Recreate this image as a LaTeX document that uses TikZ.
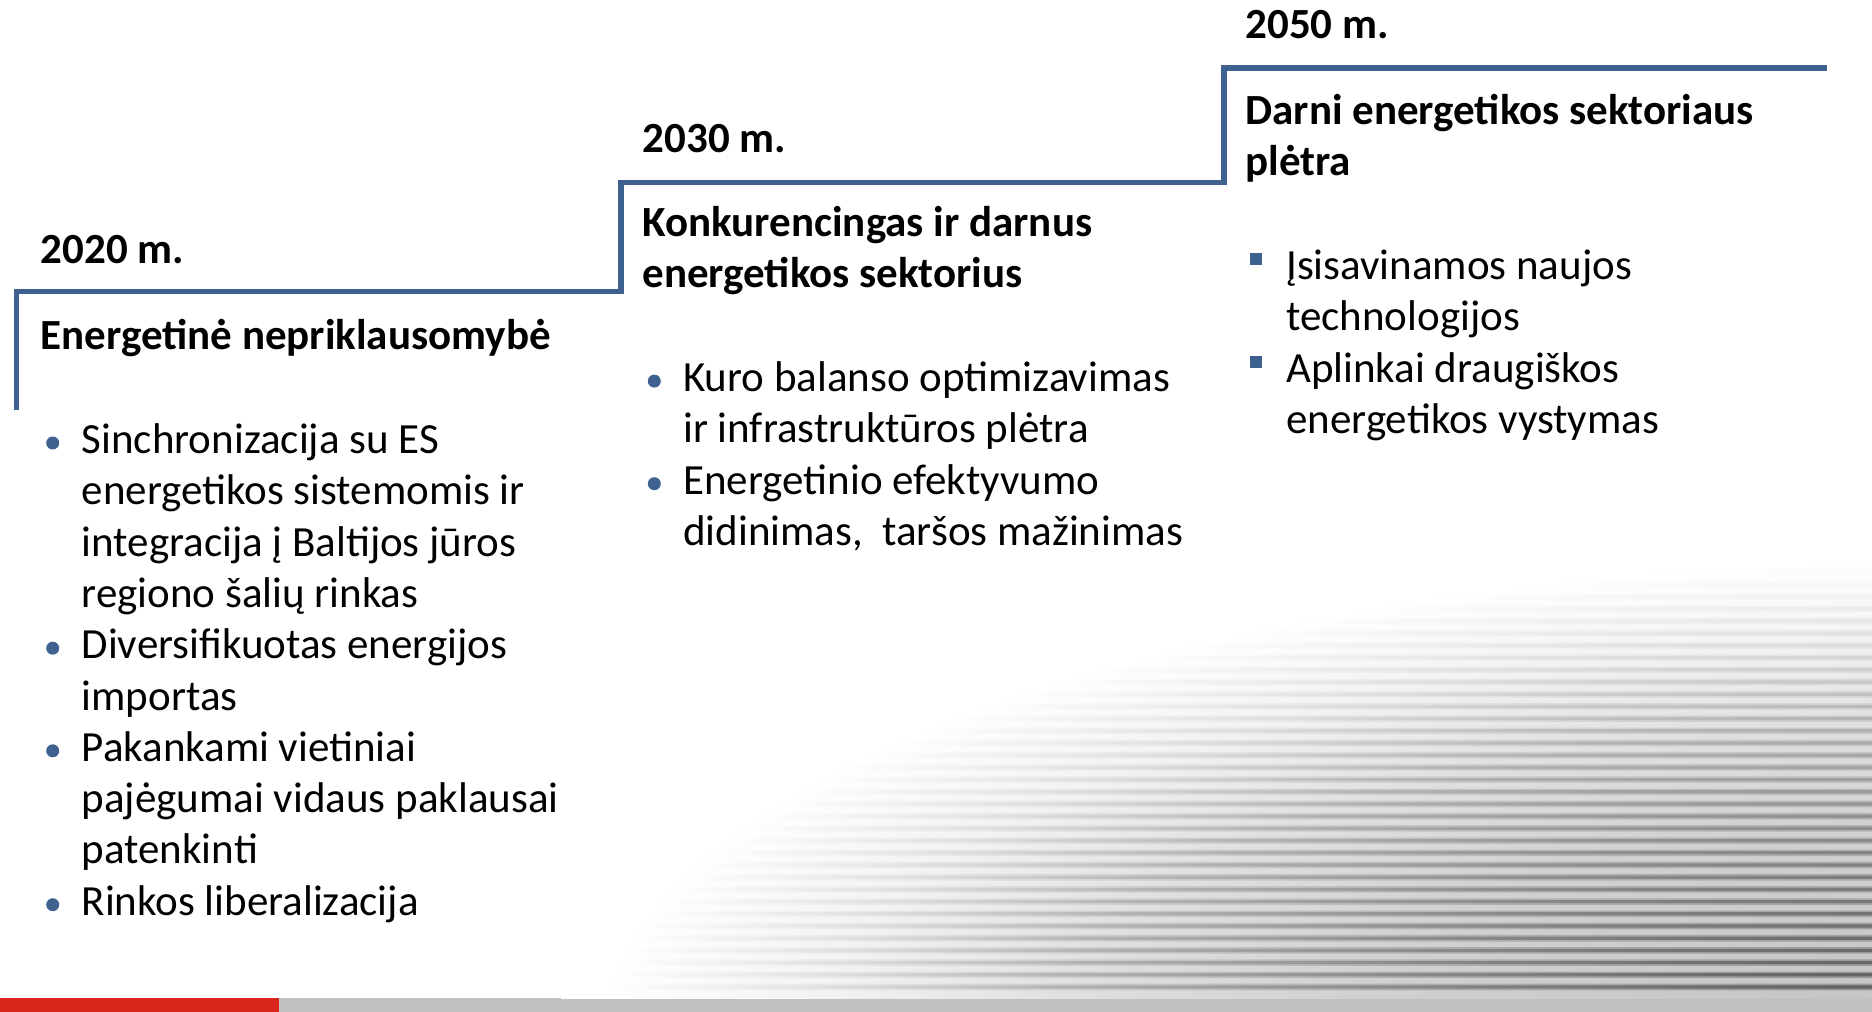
\documentclass[tikz,border=0pt]{standalone}
\usepackage{fontspec}
\setmainfont{Carlito}
\definecolor{stairblue}{RGB}{63,97,144}
\definecolor{barred}{RGB}{218,37,29}
\definecolor{bargrey}{RGB}{192,192,192}
\pgfdeclareradialshading{cornerdark}{\pgfpoint{0bp}{0bp}}{color(0bp)=(black!68); color(5bp)=(black!58); color(11bp)=(black!44); color(16bp)=(black!30); color(20bp)=(black!13); color(24bp)=(white); color(50bp)=(white)}
\pgfdeclareradialshading{cornermid}{\pgfpoint{0bp}{0bp}}{color(0bp)=(black!45); color(5bp)=(black!38); color(11bp)=(black!30); color(16bp)=(black!20); color(20bp)=(black!9); color(24bp)=(white); color(50bp)=(white)}
\pgfdeclareradialshading{cornerlight}{\pgfpoint{0bp}{0bp}}{color(0bp)=(black!24); color(11bp)=(black!18); color(16bp)=(black!12); color(20bp)=(black!5); color(24bp)=(white); color(50bp)=(white)}
\begin{document}
\begin{tikzpicture}[x=1pt,y=-1pt,
  txt/.style={anchor=base west, inner sep=0pt, font=\fontsize{43}{51.3}\selectfont},
  hd/.style={anchor=base west, inner sep=0pt, font=\fontsize{43}{51.3}\selectfont\bfseries},
  dot/.style={circle, fill=stairblue, minimum size=13pt, inner sep=0pt},
  sq/.style={rectangle, fill=stairblue, minimum size=12pt, inner sep=0pt},
  stair/.style={draw=stairblue, line width=5.5pt, line join=miter}]
\useasboundingbox (0,0) rectangle (1872,1012);
% background texture
\begin{scope}
  \clip (0,0) rectangle (1872,998);
  \shade[shading=cornerlight] (1960,1040) ellipse [x radius=1420pt, y radius=500pt];
  \begin{scope}
    \clip \foreach \k in {-24,...,15} { (0,{804+12.2*\k-3.3}) rectangle (1872,{804+12.2*\k+3.3}) };
    \shade[shading=cornermid] (1960,1040) ellipse [x radius=1420pt, y radius=500pt];
  \end{scope}
  \begin{scope}
    \clip \foreach \k in {-24,...,15} { (0,{804+12.2*\k-1.6}) rectangle (1872,{804+12.2*\k+1.6}) };
    \shade[shading=cornerdark] (1960,1040) ellipse [x radius=1420pt, y radius=500pt];
  \end{scope}
\end{scope}
% bottom bars
\fill[barred] (0,998) rectangle (279,1012);
\fill[bargrey] (279,998) rectangle (561,1012);
\fill[bargrey] (561,999) rectangle (1872,1012);
% staircase
\coordinate (s0) at (16.7,409.5);
\coordinate (s1) at (16.7,291.3);
\coordinate (s2) at (621,291.3);
\coordinate (s3) at (621,182.7);
\coordinate (s4) at (1224,182.7);
\coordinate (s5) at (1224,68);
\coordinate (s6) at (1827,68);
\draw[stair] (s0) -- (s1) -- (s2) -- (s3) -- (s4) -- (s5) -- (s6);
% column 1
\node[hd] (y1) at (40.6,263) {2020 m.};
\node[hd] (h1) at (40.6,349) {Energetinė nepriklausomybė};
\node[dot] (d11) at (52.7,443) {};
\node[txt] (t11) at (81.5,453.5) {Sinchronizacija su ES};
\node[txt] (t12) at (81.5,504.8) {energetikos sistemomis ir};
\node[txt] (t13) at (81.5,556.1) {integracija į Baltijos jūros};
\node[txt] (t14) at (81.5,607.4) {regiono šalių rinkas};
\node[dot] (d12) at (52.7,648.2) {};
\node[txt] (t15) at (81.5,658.7) {Diversifikuotas energijos};
\node[txt] (t16) at (81.5,710.0) {importas};
\node[dot] (d13) at (52.7,750.8) {};
\node[txt] (t17) at (81.5,761.3) {Pakankami vietiniai};
\node[txt] (t18) at (81.5,812.6) {pajėgumai vidaus paklausai};
\node[txt] (t19) at (81.5,863.9) {patenkinti};
\node[dot] (d14) at (52.7,904.7) {};
\node[txt] (t110) at (81.5,915.2) {Rinkos liberalizacija};
% column 2
\node[hd] (y2) at (642.4,152.8) {2030 m.};
\node[hd] (h2a) at (642.4,236.4) {Konkurencingas ir darnus};
\node[hd] (h2b) at (642.4,287.7) {energetikos sektorius};
\node[dot] (d21) at (654.3,381.1) {};
\node[txt] (t21) at (683,391.6) {Kuro balanso optimizavimas};
\node[txt] (t22) at (683,442.9) {ir infrastruktūros plėtra};
\node[dot] (d22) at (654.3,483.7) {};
\node[txt] (t23) at (683,494.2) {Energetinio efektyvumo};
\node[txt] (t24) at (683,545.5) {didinimas,~ taršos mažinimas};
% column 3
\node[hd] (y3) at (1245.3,38.2) {2050 m.};
\node[hd] (h3a) at (1245.3,124.2) {Darni energetikos sektoriaus};
\node[hd] (h3b) at (1245.3,175.5) {plėtra};
\node[sq] (q31) at (1256,259) {};
\node[txt] (t31) at (1286,279.4) {Įsisavinamos naujos};
\node[txt] (t32) at (1286,330.7) {technologijos};
\node[sq] (q32) at (1256,362) {};
\node[txt] (t33) at (1286,382.0) {Aplinkai draugiškos};
\node[txt] (t34) at (1286,433.3) {energetikos vystymas};
\end{tikzpicture}
\end{document}
